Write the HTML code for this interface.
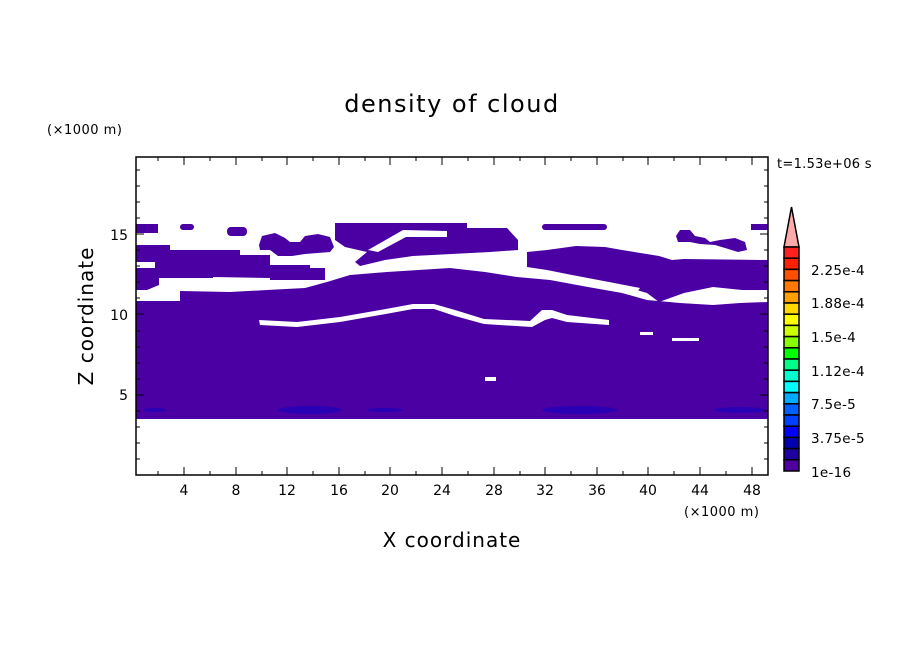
<!DOCTYPE html>
<html><head><style>
body{margin:0;background:#fff}
svg text{font-family:"DejaVu Sans","Liberation Sans",sans-serif;fill:#000}
</style></head><body>
<svg width="904" height="654" viewBox="0 0 904 654" xmlns="http://www.w3.org/2000/svg">
<rect width="904" height="654" fill="#fff"/>
<text x="452" y="112" font-size="24" text-anchor="middle" letter-spacing="1.5">density of cloud</text>
<text x="47" y="134" font-size="13" letter-spacing="0.5">(×1000 m)</text>
<text x="777" y="168" font-size="13" letter-spacing="0.3">t=1.53e+06 s</text>
<text x="684" y="516" font-size="13" letter-spacing="0.5">(×1000 m)</text>
<text x="452" y="547" font-size="20" text-anchor="middle" letter-spacing="1">X coordinate</text>
<text transform="translate(93,316) rotate(-90)" font-size="20" text-anchor="middle" letter-spacing="1">Z coordinate</text>
<g fill="#4b00a3">
<!-- main body -->
<polygon points="136,301 180,301 180,291 230,292 267,290 305,288 327,282 350,275 387,272 450,268 485,272 517,277 550,280 588,287 622,293 647,300 680,303 713,305 740,303 768,302 768,419 136,419"/>
<!-- left band -->
<polygon points="136,245 170,245 170,250 240,250 240,255 270,255 270,265 310,265 310,268 325,268 325,280 270,280 270,278 213,277 213,278 159,278 159,285 147,290 136,290"/>
<!-- top left pieces -->
<rect x="136" y="224" width="22" height="9"/>
<rect x="180" y="224" width="14" height="6" rx="3"/>
<rect x="227" y="227" width="20" height="9" rx="4"/>
<polygon points="259,245 262,236 275,233 285,238 290,242 300,242 305,236 318,234 330,237 334,247 330,252 305,254 292,256 278,256 270,250 260,250"/>
<!-- big top + diagonal -->
<polygon points="335,223 467,223 467,228 507,228 518,240 518,250 490,252 413,256 385,260 360,266 355,262 367,252 345,247 335,240"/>
<!-- right band -->
<polygon points="527,252 547,250 576,246 605,247 622,250 659,256 672,260 684,259 768,260 768,290 742,290 713,287 684,293 659,302 647,293 609,282 572,275 547,270 527,267"/>
<!-- right top bits -->
<rect x="542" y="224" width="65" height="6" rx="3"/>
<rect x="751" y="224" width="17" height="6"/>
<polygon points="676,236 680,230 690,230 695,236 705,238 710,242 720,240 735,238 745,242 747,250 738,252 725,248 715,245 700,244 690,242 678,242"/>
</g>
<g fill="#fff">
<polygon points="136,262 155,262 155,268 136,268"/>
<polygon points="368,250 403,230 447,231 447,237 406,237 378,252"/>
<polygon points="259,320 297,322 340,317 380,310 413,304 434,304 455,310 484,319 530,321 542,310 552,310 567,315 609,320 609,325 567,322 552,318 545,320 532,327 484,324 455,316 434,309 413,309 380,315 340,322 297,327 260,325"/>
<rect x="640" y="332" width="13" height="3"/>
<rect x="672" y="338" width="27" height="3"/>
<rect x="485" y="377" width="11" height="4"/>
<polygon points="609,282 640,288 634,296 630,290 615,290"/>
</g>
<g fill="#2a00b4">
<ellipse cx="310" cy="410" rx="32" ry="4"/><ellipse cx="580" cy="410" rx="38" ry="4"/><ellipse cx="740" cy="410" rx="26" ry="3"/><ellipse cx="155" cy="410" rx="12" ry="2"/><ellipse cx="385" cy="410" rx="18" ry="2"/>
</g>
<!-- axes frame -->
<rect x="136" y="157" width="632" height="318" fill="none" stroke="#000" stroke-width="1.5"/>
<g stroke="#000" stroke-width="1">
<path d="M184,475v-8M236,475v-8M287,475v-8M339,475v-8M390,475v-8M442,475v-8M494,475v-8M545,475v-8M597,475v-8M648,475v-8M700,475v-8M752,475v-8
M184,157v8M236,157v8M287,157v8M339,157v8M390,157v8M442,157v8M494,157v8M545,157v8M597,157v8M648,157v8M700,157v8M752,157v8
M158,475v-4M210,475v-4M262,475v-4M313,475v-4M365,475v-4M416,475v-4M468,475v-4M520,475v-4M571,475v-4M623,475v-4M674,475v-4M726,475v-4
M158,157v4M210,157v4M262,157v4M313,157v4M365,157v4M416,157v4M468,157v4M520,157v4M571,157v4M623,157v4M674,157v4M726,157v4
M136,395h8M136,314h8M136,234h8M768,395h-8M768,314h-8M768,234h-8
M136,459h4M136,443h4M136,427h4M136,411h4M136,379h4M136,363h4M136,347h4M136,331h4M136,298h4M136,282h4M136,266h4M136,250h4M136,218h4M136,202h4M136,186h4M136,170h4
M768,459h-4M768,443h-4M768,427h-4M768,411h-4M768,379h-4M768,363h-4M768,347h-4M768,331h-4M768,298h-4M768,282h-4M768,266h-4M768,250h-4M768,218h-4M768,202h-4M768,186h-4M768,170h-4"/>
</g>
<g font-size="14" text-anchor="middle">
<text x="184" y="495">4</text><text x="236" y="495">8</text><text x="287" y="495">12</text><text x="339" y="495">16</text><text x="390" y="495">20</text><text x="442" y="495">24</text><text x="494" y="495">28</text><text x="545" y="495">32</text><text x="597" y="495">36</text><text x="648" y="495">40</text><text x="700" y="495">44</text><text x="752" y="495">48</text>
</g>
<g font-size="14" text-anchor="end">
<text x="128" y="400">5</text><text x="128" y="320">10</text><text x="128" y="240">15</text>
</g>
<!-- colorbar -->
<g stroke="#000" stroke-width="1.5">
<polygon points="784,247 799,247 791.5,207" fill="#ffaaaa"/>
<rect x="784" y="247" width="15" height="11.2" fill="#ff2020"/>
<rect x="784" y="258.2" width="15" height="11.2" fill="#ff2000"/>
<rect x="784" y="269.4" width="15" height="11.2" fill="#ff5000"/>
<rect x="784" y="280.6" width="15" height="11.2" fill="#ff7800"/>
<rect x="784" y="291.8" width="15" height="11.2" fill="#ffa000"/>
<rect x="784" y="303" width="15" height="11.2" fill="#ffd800"/>
<rect x="784" y="314.2" width="15" height="11.2" fill="#ffff00"/>
<rect x="784" y="325.4" width="15" height="11.2" fill="#ccff00"/>
<rect x="784" y="336.6" width="15" height="11.2" fill="#88ff00"/>
<rect x="784" y="347.8" width="15" height="11.2" fill="#00ff00"/>
<rect x="784" y="359" width="15" height="11.2" fill="#00ff88"/>
<rect x="784" y="370.2" width="15" height="11.2" fill="#00ffcc"/>
<rect x="784" y="381.4" width="15" height="11.2" fill="#00ffff"/>
<rect x="784" y="392.6" width="15" height="11.2" fill="#00aaff"/>
<rect x="784" y="403.8" width="15" height="11.2" fill="#0060ff"/>
<rect x="784" y="415" width="15" height="11.2" fill="#0040ff"/>
<rect x="784" y="426.2" width="15" height="11.2" fill="#0000ff"/>
<rect x="784" y="437.4" width="15" height="11.2" fill="#0000b0"/>
<rect x="784" y="448.6" width="15" height="11.2" fill="#2000a0"/>
<rect x="784" y="459.8" width="15" height="11.2" fill="#5000a0"/>
</g>
<g font-size="13.5" letter-spacing="0.3">
<text x="811" y="275">2.25e-4</text>
<text x="811" y="308">1.88e-4</text>
<text x="811" y="342">1.5e-4</text>
<text x="811" y="376">1.12e-4</text>
<text x="811" y="409">7.5e-5</text>
<text x="811" y="443">3.75e-5</text>
<text x="811" y="477">1e-16</text>
</g>
</svg>
</body></html>
